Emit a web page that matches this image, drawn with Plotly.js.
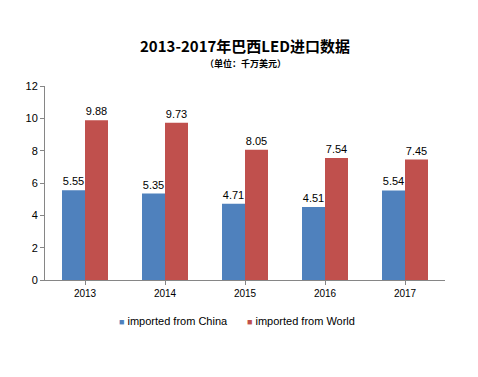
<!DOCTYPE html>
<html><head><meta charset="utf-8">
<script src="https://cdn.plot.ly/plotly-3.0.1.min.js"></script>
<style>html,body{margin:0;padding:0;background:#fff}#c{width:478px;height:377px}</style>
</head><body><div id="c"></div>
<script>
const years = ["2013","2014","2015","2016","2017"];
const china = [5.55, 5.35, 4.71, 4.51, 5.54];
const world = [9.88, 9.73, 8.05, 7.54, 7.45];
const seriesNames = ["imported from China","imported from World"];
const colors = ["#4F81BD","#C0504D"];
const font = "Liberation Sans, Arial, sans-serif";
const traces = [china, world].map((v,i)=>({
  type:"bar", x:years, y:v, name:seriesNames[i],
  marker:{color:colors[i]}, showlegend:false,
  text:v.map(d=>d.toFixed(2)), textposition:"outside", cliponaxis:false,
  textfont:{family:font,size:11,color:"#000"}
}));
const legendX = [0.18, 0.5];
const legendAnn = seriesNames.map((n,i)=>({
  text:'<span style="color:'+colors[i]+';font-size:9px">■</span> '+n,
  xref:"paper", yref:"paper", x:legendX[i], xanchor:"left",
  y:-(321-280)/194, yanchor:"middle", showarrow:false,
  font:{family:font,size:11,color:"#000"}
}));
const layout = {
  width:478, height:377,
  margin:{l:45,r:33,t:86,b:97},
  paper_bgcolor:"#fff", plot_bgcolor:"#fff",
  barmode:"group", bargap:0.425, bargroupgap:0,
  showlegend:false,
  xaxis:{showline:true, linecolor:"#868686", linewidth:1, ticks:"outside", tickson:"boundaries",
    ticklen:4, tickcolor:"#868686", tickfont:{family:font,size:10,color:"#000"}, showgrid:false, fixedrange:true},
  yaxis:{range:[0,12], dtick:2, showline:true, linecolor:"#868686", linewidth:1, ticks:"outside",
    ticklen:4, tickcolor:"#868686", tickfont:{family:font,size:11,color:"#000"}, showgrid:false, zeroline:false},
  annotations:[
    {text:"<b>2013-2017年巴西LED进口数据</b>", xref:"paper", yref:"paper", x:0.5, xanchor:"center",
     y:1+(86-45)/194, yanchor:"middle", showarrow:false, font:{family:"Noto Sans CJK SC", size:15, color:"#000"}},
    {text:"<b>（单位：千万美元）</b>", xref:"paper", yref:"paper", x:0.5, xanchor:"center",
     y:1+(86-63)/194, yanchor:"middle", showarrow:false, font:{family:"Noto Sans CJK SC", size:9, color:"#000"}}
  ].concat(legendAnn)
};
Plotly.newPlot("c", traces, layout, {displayModeBar:false, staticPlot:true});
</script></body></html>
